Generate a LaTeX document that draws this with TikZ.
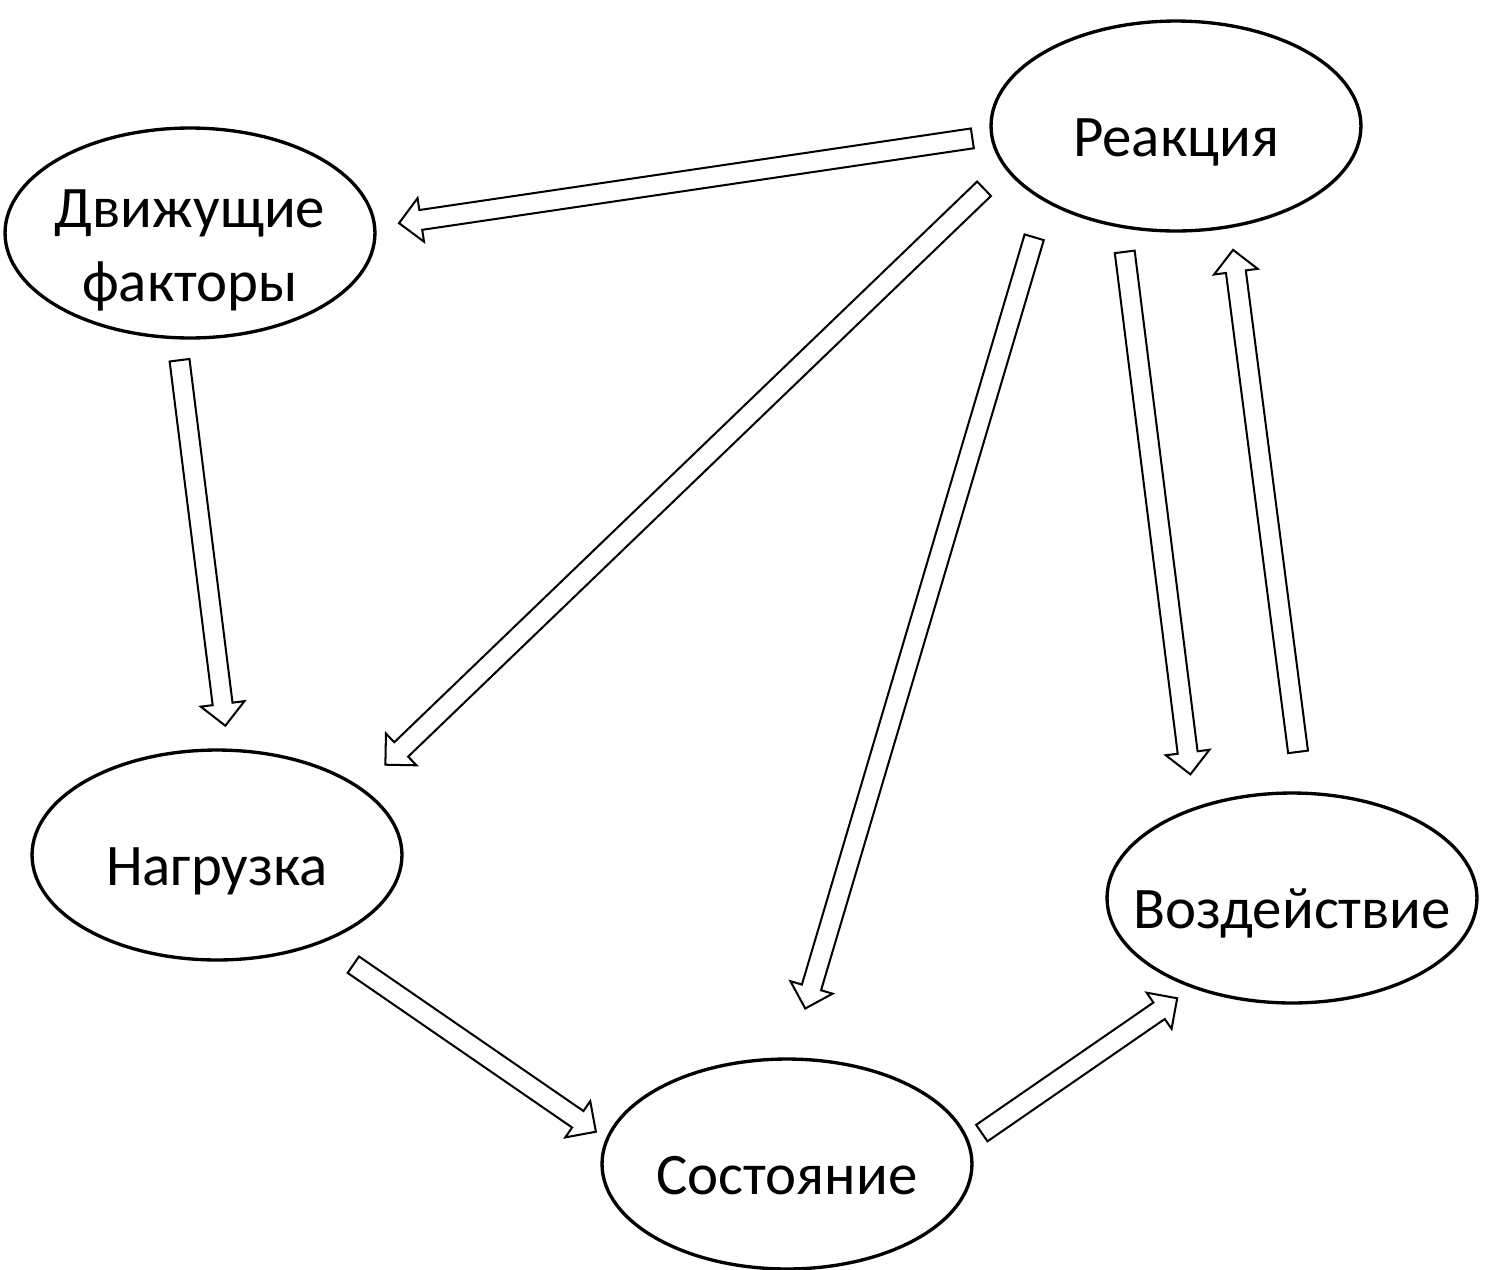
\documentclass[tikz,border=0pt]{standalone}
\usepackage{fontspec}
\setmainfont{Carlito}
\usetikzlibrary{calc,shapes}

\tikzset{
  factor/.style={ellipse, draw, line width=1.9pt, minimum width=7.4cm, minimum height=4.2cm,
    inner xsep=-28pt, inner ysep=-10pt, align=center, font=\fontsize{33.5}{42}\selectfont},
  oneline/.style={text height=43pt, text depth=8pt},
  blockline/.style={draw, line width=1.15pt, fill=white, line join=miter}
}

% hollow block arrow: from, to, gap at from, gap at to (in px)
\newcommand{\blockarrow}[4]{%
  \coordinate (ba-s) at ($(#1)!#3*0.02cm!(#2)$);
  \coordinate (ba-e) at ($(#2)!#4*0.02cm!(#1)$);
  \coordinate (ba-b) at ($(ba-e)!0.44cm!(ba-s)$);
  \draw[blockline] ($(ba-s)!0.2cm!90:(ba-e)$) -- ($(ba-b)!0.2cm!-90:(ba-s)$)
    -- ($(ba-b)!0.44cm!-90:(ba-s)$) -- (ba-e) -- ($(ba-b)!0.44cm!90:(ba-s)$)
    -- ($(ba-b)!0.2cm!90:(ba-s)$) -- ($(ba-s)!0.2cm!-90:(ba-e)$) -- cycle;
}

\begin{document}
\begin{tikzpicture}[x=0.02cm, y=-0.02cm]
  \useasboundingbox (0,0) rectangle (1499,1269);

  \node[factor,oneline] (reak) at (1176,126) {Реакция};
  \node[factor] (dvig) at (190,233) {\rule{0pt}{41pt}Движущие\\факторы};
  \node[factor,oneline] (nagr) at (217,855) {Нагрузка};
  \node[factor,oneline] (sost) at (787,1164) {Состояние};
  \node[factor,oneline] (vozd) at (1292,898) {Воздействие};

  \blockarrow{reak.183}{dvig.2}{18}{23}
  \blockarrow{dvig.263}{nagr.84}{21}{23}
  \blockarrow{reak.194}{nagr.25}{29}{33}
  \blockarrow{reak.210}{sost.88}{37}{51}
  \blockarrow{reak.242}{vozd.137}{24}{33}
  \blockarrow{vozd.84}{reak.298}{40}{22}
  \blockarrow{nagr.320}{sost.172}{38}{12}
  \blockarrow{sost.7}{vozd.222}{15}{18}

\end{tikzpicture}
\end{document}
